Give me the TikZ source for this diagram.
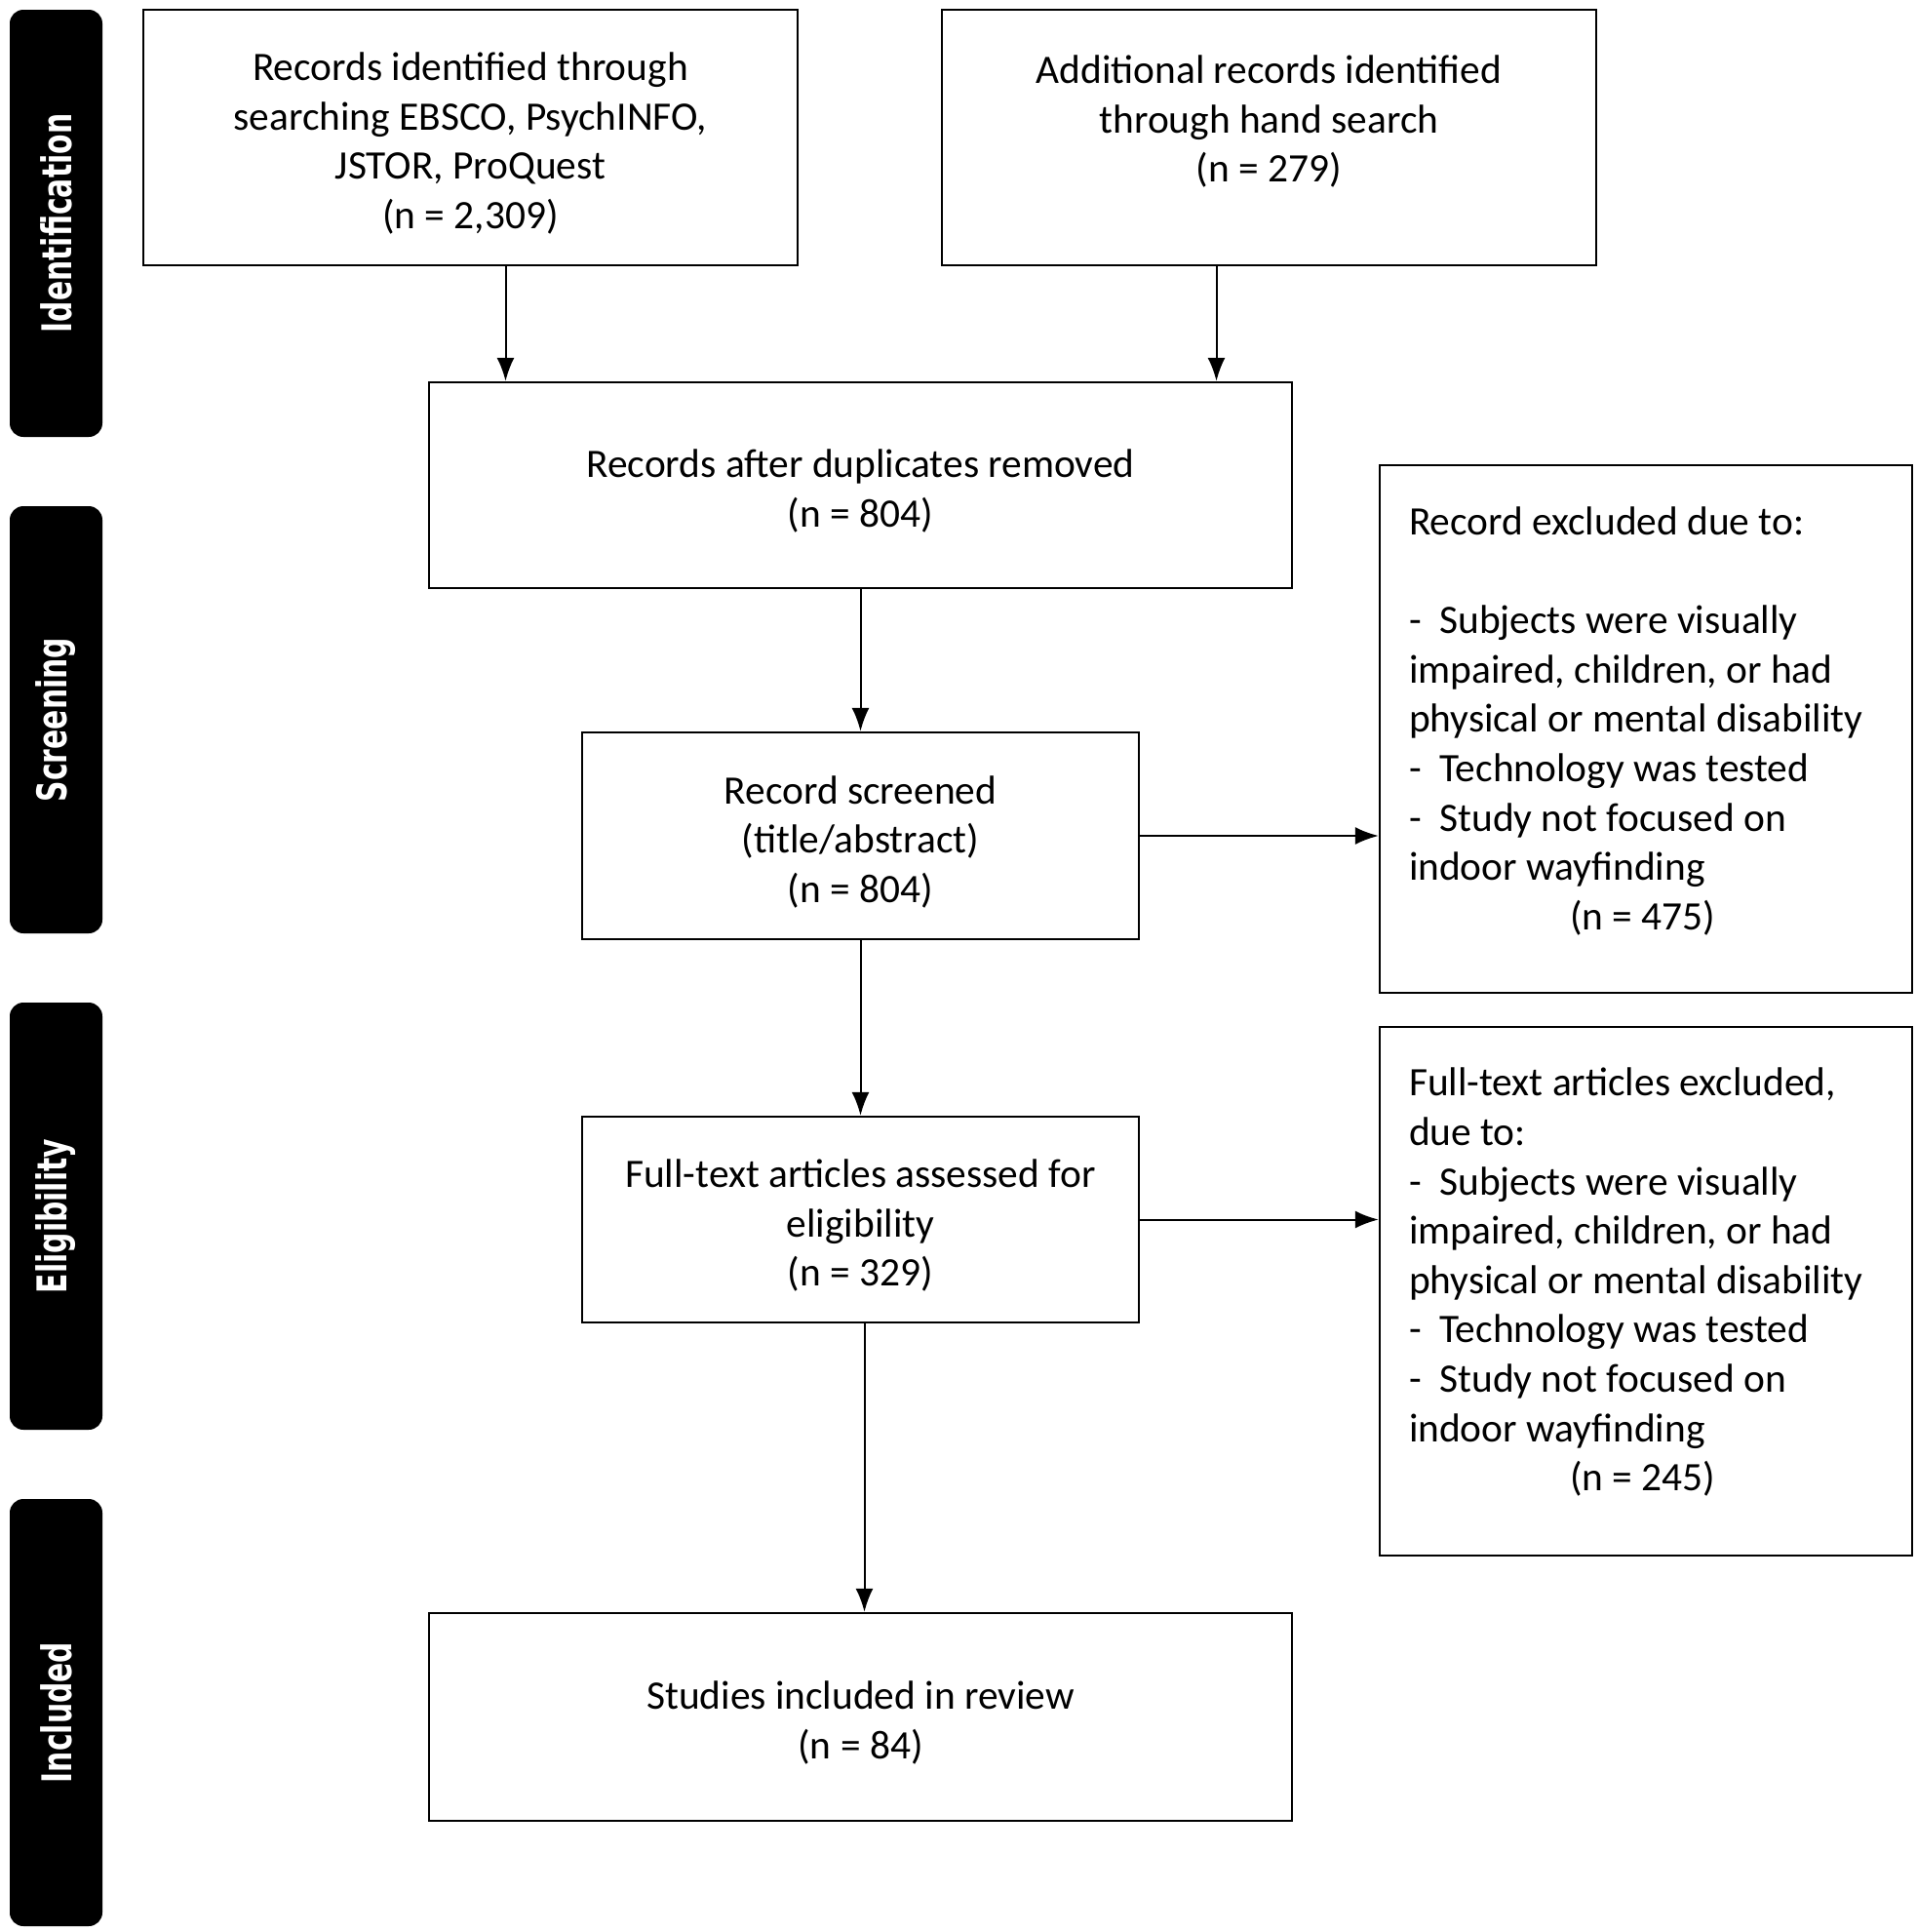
\documentclass[tikz,border=0pt]{standalone}
\usepackage{fontspec}
\usepackage{graphicx}
\setmainfont{Carlito}
\newfontfamily\barfont{DejaVu Sans}
\usetikzlibrary{arrows.meta}

% a taller first line pushes the centred text a little down
\newcommand{\firstline}{\rule{0pt}{20.5pt}}
% a deeper last line pushes it a little up
\newcommand{\lastline}[1]{\rule[-#1]{0pt}{#1}}

\begin{document}
\begin{tikzpicture}[x=1pt,y=-1pt,
	box/.style={draw, line width=1.2pt, inner sep=0pt, align=center, font=\fontsize{20.7}{25.3}\selectfont},
	notebox/.style={box, align=flush left, text width=243pt, inner xsep=15pt, minimum width=273pt},
	phase/.style={fill=black, text=white, rounded corners=7pt, rotate=90, minimum width=219pt, minimum height=47.5pt, inner sep=0pt, font=\barfont\bfseries\fontsize{21}{25}\selectfont},
	arr/.style={-{Latex[length=12pt,width=9pt]}, line width=1pt}]

	\useasboundingbox (0,0) rectangle (982.5,990.5);

	% phase bars on the left
	\node[phase] (ident) at (28.75,114.5) {\scalebox{0.71}[1]{Identification}};
	\node[phase] (screen) at (28.75,369) {\scalebox{0.71}[1]{Screening}};
	\node[phase] (elig) at (28.75,623.5) {\scalebox{0.71}[1]{Eligibility}};
	\node[phase] (incl) at (28.75,878) {\scalebox{0.71}[1]{Included}};

	% boxes
	\node[box, minimum width=335.5pt, minimum height=131pt] (found) at (241.25,70.5) {\firstline Records identified through\\searching EBSCO, PsychINFO,\\JSTOR, ProQuest\\(n = 2,309)};
	\node[box, minimum width=335.5pt, minimum height=131pt] (hand) at (650.75,70.5) {\firstline Additional records identified\\through hand search\\(n = 279)\\ \mbox{}};
	\node[box, minimum width=442.5pt, minimum height=105.5pt] (nodup) at (441.25,248.75) {\firstline Records after duplicates removed\\(n = 804)};
	\node[box, minimum width=285.5pt, minimum height=106pt] (screened) at (441.25,428.5) {\firstline Record screened\\(title/abstract)\\(n = 804)};
	\node[notebox, minimum height=270.5pt] (excl) at (844,373.75) {Record excluded due to:\\ \mbox{}\\-\ \ Subjects were visually\\impaired, children, or had\\physical or mental disability\\-\ \ Technology was tested\\-\ \ Study not focused on\\indoor wayfinding\\\hspace*{82.5pt}(n = 475)\lastline{11pt}};
	\node[box, minimum width=285.5pt, minimum height=105.5pt] (fulltext) at (441.25,625.25) {\firstline Full-text articles assessed for\\eligibility\\(n = 329)};
	\node[notebox, minimum height=271pt] (fullexcl) at (844,662) {Full-text articles excluded,\\due to:\\-\ \ Subjects were visually\\impaired, children, or had\\physical or mental disability\\-\ \ Technology was tested\\-\ \ Study not focused on\\indoor wayfinding\\\hspace*{82.5pt}(n = 245)\lastline{12pt}};
	\node[box, minimum width=442.5pt, minimum height=106.5pt] (studies) at (441.25,880.25) {\firstline Studies included in review\\(n = 84)};

	% arrows
	\draw[arr] ([xshift=18pt]found.south) -- ([xshift=18pt]found.south |- nodup.north);
	\draw[arr] ([xshift=-27pt]hand.south) -- ([xshift=-27pt]hand.south |- nodup.north);
	\draw[arr] (nodup.south) -- (screened.north);
	\draw[arr] (screened.east) -- (screened.east -| excl.west);
	\draw[arr] (screened.south) -- (fulltext.north);
	\draw[arr] (fulltext.east) -- (fulltext.east -| fullexcl.west);
	\draw[arr] ([xshift=2pt]fulltext.south) -- ([xshift=2pt]fulltext.south |- studies.north);

\end{tikzpicture}
\end{document}
